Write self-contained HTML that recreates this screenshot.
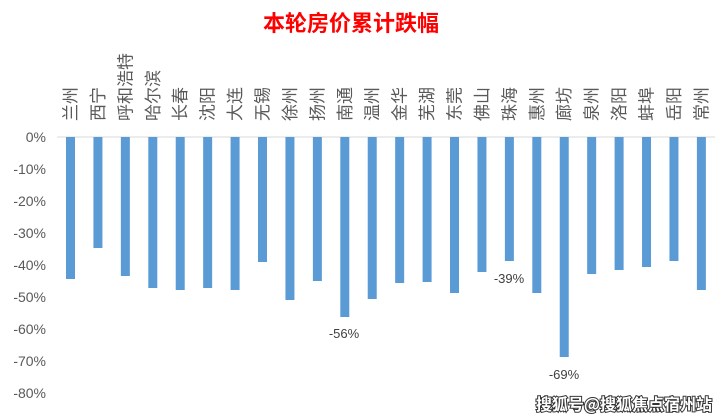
<!DOCTYPE html>
<html><head><meta charset="utf-8"><style>
body{margin:0;background:#fff;width:723px;height:418px;overflow:hidden;position:relative;font-family:"Liberation Sans","Noto Sans CJK SC",sans-serif}
svg{position:absolute;left:0;top:0}
</style></head><body>
<svg width="723" height="418" xmlns="http://www.w3.org/2000/svg" font-family="Liberation Sans, Noto Sans CJK SC, sans-serif">
<text x="351" y="31" text-anchor="middle" font-size="22" font-weight="bold" fill="#ff0000" font-family="Noto Sans CJK SC, sans-serif">本轮房价累计跌幅</text>
<g fill="#595959" font-size="14" text-anchor="end">
<text x="46" y="142">0%</text><text x="46" y="174">-10%</text><text x="46" y="206">-20%</text><text x="46" y="238">-30%</text><text x="46" y="270">-40%</text><text x="46" y="302">-50%</text><text x="46" y="334">-60%</text><text x="46" y="366">-70%</text><text x="46" y="398">-80%</text>
</g>
<line x1="57" y1="137" x2="715" y2="137" stroke="#d9d9d9" stroke-width="1"/>
<g fill="#5b9bd5" id="bars"></g>
<g fill="#595959" font-size="17" id="labs" font-family="Noto Sans CJK SC, sans-serif"></g>
<g fill="#404040" font-size="13" text-anchor="middle">
<text x="344" y="338">-56%</text><text x="509" y="283">-39%</text><text x="564" y="379">-69%</text>
</g>
<text x="712" y="410" text-anchor="end" font-size="16" font-weight="bold" fill="#fff" stroke="#333" stroke-width="2" paint-order="stroke" font-family="Noto Sans CJK SC, sans-serif">搜狐号@搜狐焦点宿州站</text>
</svg>
<script>
var n=["兰州","西宁","呼和浩特","哈尔滨","长春","沈阳","大连","无锡","徐州","扬州","南通","温州","金华","芜湖","东莞","佛山","珠海","惠州","廊坊","泉州","洛阳","蚌埠","岳阳","常州"];
var b=[279,248,276,288,290,288,290,262,300,281,317,299,283,282,293,272,261,293,357,274,270,267,261,290];
var s="",t="";
for(var i=0;i<24;i++){var c=70.5+i*27.43;
s+='<rect x="'+(c-4.5)+'" y="137" width="9" height="'+(b[i]-137)+'"/>';
var x=c+6;
t+='<text x="'+x+'" y="121" transform="rotate(-90 '+x+' 121)">'+n[i]+'</text>';}
document.getElementById("bars").innerHTML=s;
document.getElementById("labs").innerHTML=t;
</script>
</body></html>
